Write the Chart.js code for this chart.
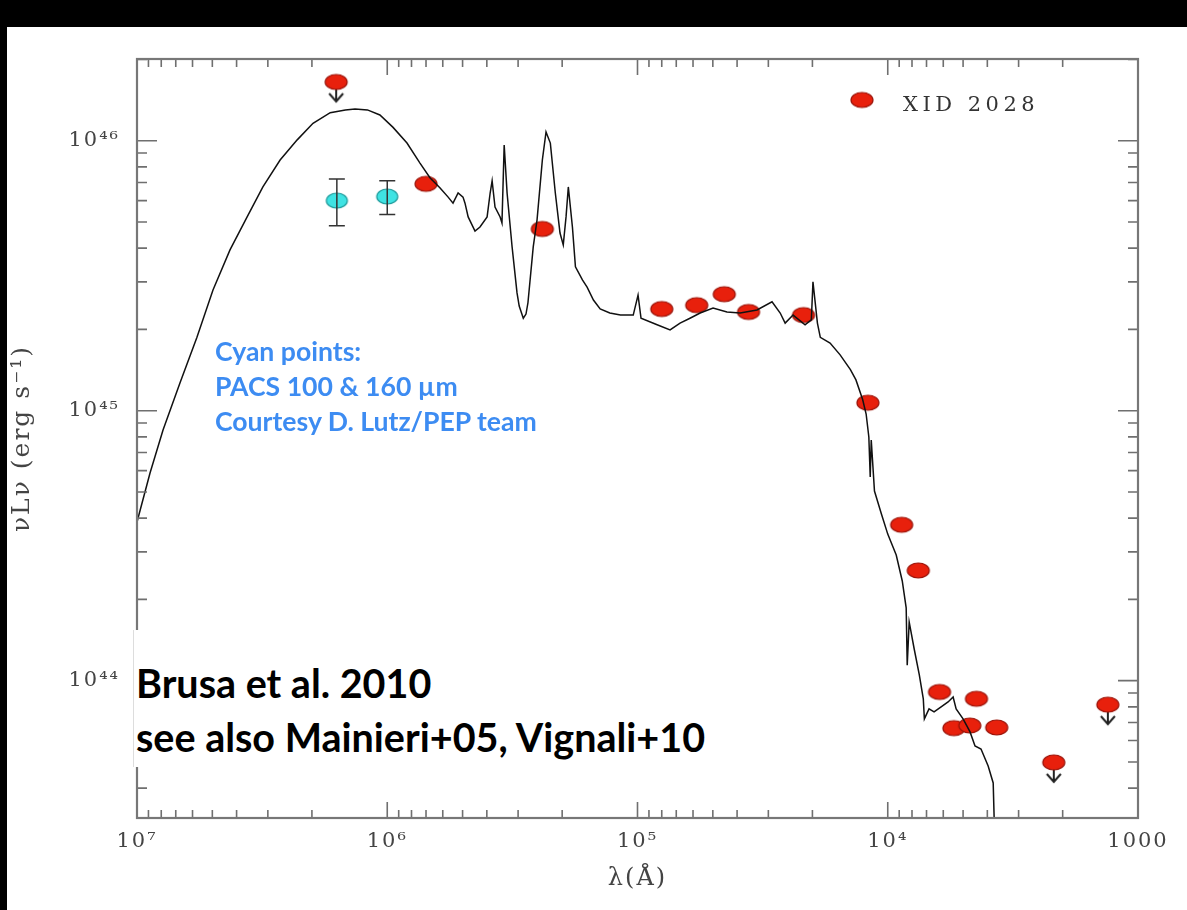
<!DOCTYPE html>
<html>
<head>
<meta charset="utf-8">
<script src="https://cdn.jsdelivr.net/npm/chart.js@4.4.1/dist/chart.umd.min.js"></script>
<style>
  html, body { margin: 0; padding: 0; background: #000; }
  #contenedor { position: relative; width: 1187px; height: 910px; overflow: hidden; }
  #grafico { position: absolute; left: 0; top: 0; }
  .nota {
    position: absolute; left: 215px; top: 334px;
    color: #3d8cf2; font-family: Lato, "Open Sans", sans-serif; font-weight: bold;
    font-size: 26.6px; line-height: 35px; white-space: nowrap;
  }
  .cita {
    position: absolute; left: 133px; top: 630px; width: 592px; height: 137px;
    background: #fff; border-left: 1px solid #ddd;
  }
  .cita div {
    position: absolute; left: 2px; top: 26px;
    color: #000; font-family: Lato, "Open Sans", sans-serif; font-weight: bold;
    font-size: 39.5px; line-height: 54px; white-space: nowrap;
  }
</style>
</head>
<body>
<div id="contenedor">
  <canvas id="grafico" width="1187" height="910"></canvas>
  <div class="nota">Cyan points:<br>PACS 100 &amp; 160 µm<br>Courtesy D. Lutz/PEP team</div>
  <div class="cita"><div>Brusa et al. 2010<br>see also Mainieri+05, Vignali+10</div></div>
</div>
<script>
// modelo (lambda en Å, nuLnu en erg/s)
const modeloLambda = [1.00e7, 8.87e6, 7.87e6, 6.73e6, 5.76e6, 4.97e6, 4.25e6, 3.63e6, 3.14e6, 2.68e6,
  2.29e6, 1.98e6, 1.69e6, 1.47e6, 1.345e6, 1.20e6, 1.07e6, 9.48e5, 8.34e5, 7.40e5,
  6.74e5, 6.15e5, 5.71e5, 5.46e5, 5.21e5, 4.98e5, 4.89e5, 4.75e5, 4.46e5, 4.26e5,
  3.99e5, 3.88e5, 3.81e5, 3.71e5, 3.54e5, 3.48e5, 3.41e5, 3.32e5, 3.17e5, 3.03e5,
  2.97e5, 2.86e5, 2.79e5, 2.74e5, 2.61e5, 2.52e5, 2.40e5, 2.32e5, 2.23e5, 2.13e5,
  2.04e5, 1.98e5, 1.93e5, 1.89e5, 1.82e5, 1.77e5, 1.66e5, 1.59e5, 1.50e5, 1.41e5,
  1.29e5, 1.17e5, 1.04e5, 9.95e4, 9.68e4, 8.35e4, 7.41e4, 6.76e4, 6.17e4, 5.62e4,
  4.99e4, 4.39e4, 3.89e4, 3.33e4, 2.90e4, 2.69e4, 2.57e4, 2.39e4, 2.14e4, 2.02e4,
  1.99e4, 1.91e4, 1.86e4, 1.70e4, 1.55e4, 1.41e4, 1.34e4, 1.26e4, 1.22e4, 1.19e4,
  1.175e4, 1.164e4, 1.13e4, 1.06e4, 1.00e4, 9.25e3, 8.75e3, 8.44e3, 8.36e3, 8.21e3,
  7.84e3, 7.48e3, 7.21e3, 7.14e3, 6.84e3, 6.53e3, 6.12e3, 5.74e3, 5.48e3, 5.33e3,
  5.00e3, 4.69e3, 4.48e3, 4.24e3, 3.97e3, 3.79e3, 3.72e3];
const modeloLum = [3.87e44, 5.88e44, 8.48e44, 1.27e45, 1.87e45, 2.80e45, 3.94e45, 5.22e45, 6.74e45, 8.48e45,
  1.007e46, 1.16e46, 1.27e46, 1.30e46, 1.31e46, 1.30e46, 1.245e46, 1.12e46, 9.80e45, 8.26e45,
  7.28e45, 6.68e45, 6.18e45, 5.87e45, 6.40e45, 6.18e45, 5.87e45, 5.22e45, 4.63e45, 4.79e45,
  5.22e45, 6.40e45, 7.10e45, 5.68e45, 5.22e45, 4.96e45, 9.64e45, 6.40e45, 4.04e45, 2.73e45,
  2.44e45, 2.20e45, 2.28e45, 2.51e45, 4.04e45, 5.09e45, 8.48e45, 1.077e46, 9.80e45, 6.40e45,
  4.55e45, 4.11e45, 5.22e45, 6.74e45, 4.79e45, 3.41e45, 3.05e45, 2.87e45, 2.57e45, 2.38e45,
  2.30e45, 2.26e45, 2.26e45, 2.68e45, 2.20e45, 2.08e45, 1.99e45, 2.11e45, 2.20e45, 2.30e45,
  2.40e45, 2.32e45, 2.30e45, 2.36e45, 2.53e45, 2.30e45, 2.11e45, 2.26e45, 2.08e45, 2.17e45,
  3.00e45, 2.11e45, 1.87e45, 1.78e45, 1.61e45, 1.42e45, 1.30e45, 1.10e45, 9.72e44, 7.99e44,
  5.68e44, 7.79e44, 5.04e44, 4.14e44, 3.49e44, 2.92e44, 2.34e44, 1.86e44, 1.14e44, 1.65e44,
  1.31e44, 1.05e44, 8.56e43, 7.22e43, 7.86e43, 7.66e43, 8.00e43, 8.34e43, 8.70e43, 7.86e43,
  7.22e43, 6.46e43, 5.73e43, 5.58e43, 4.83e43, 4.18e43, 2.21e43];

// fotometria XID 2028
const detLambda = [7.0e5, 2.4e5, 8.0e4, 5.8e4, 4.5e4, 3.6e4, 2.17e4, 1.20e4, 8.8e3, 7.55e3,
  6.21e3, 5.44e3, 4.70e3, 4.42e3, 3.67e3];
const detLum = [6.92e45, 4.71e45, 2.38e45, 2.46e45, 2.70e45, 2.32e45, 2.26e45, 1.07e45, 3.78e44, 2.56e44,
  9.08e43, 6.67e43, 6.82e43, 8.57e43, 6.71e43];

// limites superiores
const limLambda = [1.60e6, 2.17e3, 1.32e3];
const limLum = [1.65e46, 4.98e43, 8.15e43];

// PACS 100 y 160 micras
const pacsLambda = [1.59e6, 1.0e6];
const pacsLum = [6.00e45, 6.21e45];
const pacsAlto = [7.21e45, 7.11e45];
const pacsBajo = [4.84e45, 5.33e45];

const xTicks = [1e7, 1e6, 1e5, 1e4, 1e3];
const xEtiquetas = ["10⁷", "10⁶", "10⁵", "10⁴", "1000"];
const yTicks = [1e44, 1e45, 1e46];
const yEtiquetas = ["10⁴⁴", "10⁴⁵", "10⁴⁶"];
const leyenda = "XID 2028";

const fuente = "'DejaVu Serif', 'Liberation Serif', serif";

function marca(w, h, relleno, borde, flecha) {
  const c = document.createElement("canvas");
  c.width = w + 20;
  c.height = flecha ? 2 * (h / 2 + 16) : h + 4;
  const g = c.getContext("2d");
  const cx = c.width / 2, cy = c.height / 2;
  if (flecha) {
    g.strokeStyle = "#222";
    g.lineWidth = 2;
    g.beginPath();
    g.moveTo(cx, cy);
    g.lineTo(cx, cy + h / 2 + 12);
    g.moveTo(cx - 7, cy + h / 2 + 4);
    g.lineTo(cx, cy + h / 2 + 12);
    g.lineTo(cx + 7, cy + h / 2 + 4);
    g.stroke();
  }
  g.beginPath();
  g.ellipse(cx, cy, w / 2, h / 2, 0, 0, Math.PI * 2);
  g.fillStyle = relleno;
  g.fill();
  g.lineWidth = 1.2;
  g.strokeStyle = borde;
  g.stroke();
  return c;
}

const puntoRojo = marca(22, 15, "#e8200c", "#9a1208", false);
const limiteRojo = marca(22, 15, "#e8200c", "#9a1208", true);
const puntoCian = marca(21, 15, "#3fe3e3", "#1c9a9a", false);

function menores(min, max) {
  const out = [];
  for (let e = Math.floor(Math.log10(min)); e <= Math.ceil(Math.log10(max)); e++) {
    for (let m = 1; m < 10; m++) {
      const v = m * Math.pow(10, e);
      if (v >= min * 0.999 && v <= max * 1.001) out.push({ v, mayor: m === 1 });
    }
  }
  return out;
}

const marco = {
  id: "marco",
  beforeDraw(chart) {
    const { ctx, width, height } = chart;
    ctx.save();
    ctx.fillStyle = "#fff";
    ctx.fillRect(0, 0, width, height);
    ctx.fillStyle = "#000";
    ctx.fillRect(0, 0, width, 27);
    ctx.fillRect(0, 0, 7, height);
    ctx.restore();
    ctx.letterSpacing = "2px";
  },
  afterDatasetsDraw(chart) {
    const { ctx, chartArea: a, scales: { x, y } } = chart;
    ctx.save();
    // barras de error PACS
    ctx.strokeStyle = "#333";
    ctx.lineWidth = 1.5;
    pacsLambda.forEach((l, i) => {
      const px = x.getPixelForValue(l);
      const p1 = y.getPixelForValue(pacsAlto[i]);
      const p2 = y.getPixelForValue(pacsBajo[i]);
      ctx.beginPath();
      ctx.moveTo(px, p1); ctx.lineTo(px, p2);
      ctx.moveTo(px - 8, p1); ctx.lineTo(px + 8, p1);
      ctx.moveTo(px - 8, p2); ctx.lineTo(px + 8, p2);
      ctx.stroke();
    });
    // marco y ticks
    ctx.strokeStyle = "#6f6f6f";
    ctx.lineWidth = 1.6;
    ctx.beginPath();
    menores(x.min, x.max).forEach(t => {
      const px = x.getPixelForValue(t.v);
      const len = t.mayor ? 16 : 8;
      ctx.moveTo(px, a.bottom); ctx.lineTo(px, a.bottom - len);
      ctx.moveTo(px, a.top); ctx.lineTo(px, a.top + len);
    });
    menores(y.min, y.max).forEach(t => {
      const py = y.getPixelForValue(t.v);
      const len = t.mayor ? 20 : 10;
      ctx.moveTo(a.left, py); ctx.lineTo(a.left + len, py);
      ctx.moveTo(a.right, py); ctx.lineTo(a.right - len, py);
    });
    ctx.stroke();
    ctx.lineWidth = 2.2;
    ctx.strokeStyle = "#777";
    ctx.strokeRect(a.left, a.top, a.right - a.left, a.bottom - a.top);
    // leyenda
    ctx.drawImage(puntoRojo, 862 - puntoRojo.width / 2, 100 - puntoRojo.height / 2);
    ctx.fillStyle = "#333";
    ctx.font = "21px " + fuente;
    ctx.textBaseline = "middle";
    ctx.letterSpacing = "4.5px";
    ctx.fillText(leyenda, 903, 106);
    ctx.restore();
  }
};

new Chart(document.getElementById("grafico").getContext("2d"), {
  type: "scatter",
  data: {
    datasets: [
      {
        label: "modelo",
        data: modeloLambda.map((l, i) => ({ x: l, y: modeloLum[i] })),
        showLine: true,
        borderColor: "#111",
        borderWidth: 1.5,
        pointRadius: 0,
        tension: 0
      },
      {
        label: "PACS",
        data: pacsLambda.map((l, i) => ({ x: l, y: pacsLum[i] })),
        pointStyle: puntoCian,
        pointRadius: 6
      },
      {
        label: "XID 2028",
        data: detLambda.map((l, i) => ({ x: l, y: detLum[i] })),
        pointStyle: puntoRojo,
        pointRadius: 6
      },
      {
        label: "limites",
        data: limLambda.map((l, i) => ({ x: l, y: limLum[i] })),
        pointStyle: limiteRojo,
        pointRadius: 6
      }
    ]
  },
  options: {
    responsive: false,
    animation: false,
    layout: { padding: { left: 0, top: 59, right: 49, bottom: 0 } },
    plugins: { legend: { display: false }, tooltip: { enabled: false } },
    scales: {
      x: {
        type: "logarithmic",
        reverse: true,
        min: 1e3,
        max: 1e7,
        afterFit(s) { s.height = 92; },
        afterBuildTicks(s) { s.ticks = xTicks.map(v => ({ value: v })); },
        grid: { display: false, drawTicks: false },
        border: { display: false },
        ticks: {
          autoSkip: false,
          maxRotation: 0,
          padding: 11,
          color: "#444",
          font: { family: fuente, size: 21 },
          callback: (v) => xEtiquetas[xTicks.indexOf(v)]
        },
        title: {
          display: true,
          text: "λ(Å)",
          color: "#444",
          font: { family: fuente, size: 24 },
          padding: { top: 0, bottom: 17 }
        }
      },
      y: {
        type: "logarithmic",
        min: 3.1e43,
        max: 2.007e46,
        afterFit(s) { s.width = 137; },
        afterBuildTicks(s) { s.ticks = yTicks.map(v => ({ value: v })); },
        grid: { display: false, drawTicks: false },
        border: { display: false },
        ticks: {
          padding: 17,
          color: "#444",
          font: { family: fuente, size: 21 },
          callback: (v) => yEtiquetas[yTicks.indexOf(v)]
        },
        title: {
          display: true,
          text: "νLν (erg s⁻¹)",
          color: "#444",
          font: { family: fuente, size: 25 },
          padding: { top: 7, bottom: 0 }
        }
      }
    }
  },
  plugins: [marco]
});
</script>
</body>
</html>
